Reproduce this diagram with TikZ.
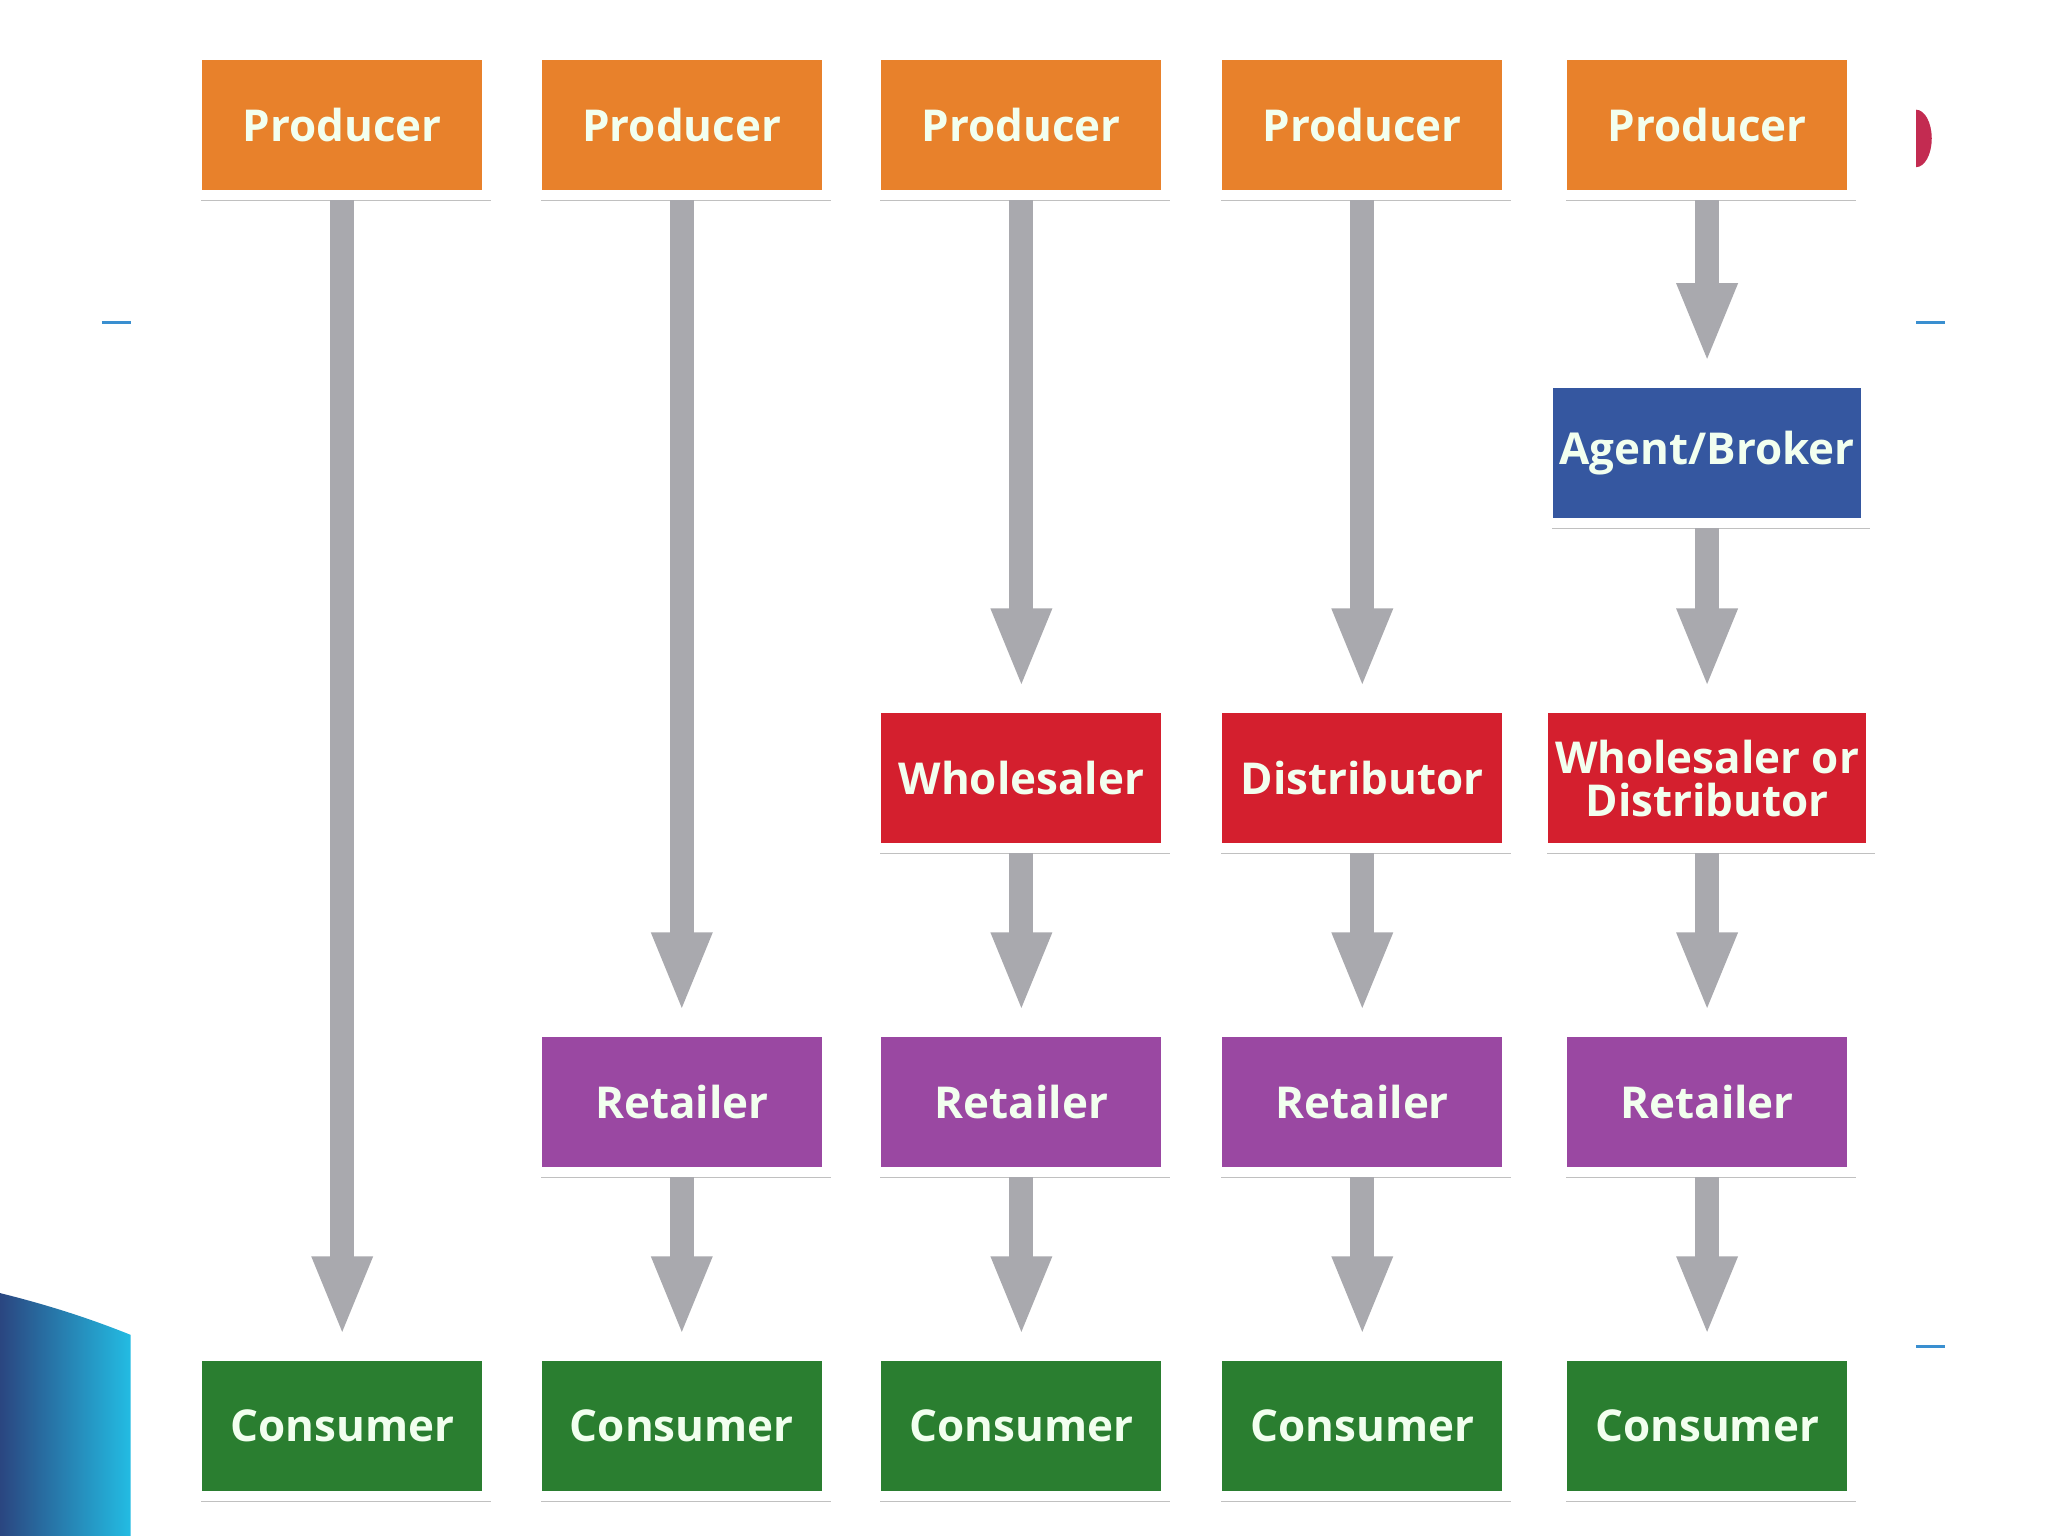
\documentclass[tikz,border=0pt]{standalone}
\usepackage{fontspec}
\setmainfont{Open Sans}
\usetikzlibrary{arrows.meta,shadows,positioning}
\definecolor{cor}{HTML}{E8812B}
\definecolor{cbl}{HTML}{3557A0}
\definecolor{cre}{HTML}{D41F2E}
\definecolor{cpu}{HTML}{9A48A2}
\definecolor{cgr}{HTML}{2A7E30}
\definecolor{ctx}{HTML}{F2FFEF}
\definecolor{carr}{HTML}{A9A9AE}
\definecolor{cdash}{HTML}{3A8FD0}
\begin{document}
\begin{tikzpicture}[x=0.013061cm,y=-0.013061cm,
  box/.style={draw=white,line width=0.1cm,minimum width=2.9cm,minimum height=1.4cm,
    text=ctx,font=\bfseries\fontsize{12.5}{15}\selectfont,align=center,
    drop shadow={shadow xshift=0.04cm,shadow yshift=-0.06cm,opacity=0.35,fill=black!70}},
  arr/.style={draw=carr,line width=0.24cm,-{Triangle[length=0.8cm,width=0.55cm]},shorten >=0.15cm}]
\useasboundingbox (0,0) rectangle (1568,1176);
\fill[white] (0,0) rectangle (1568,1176);
% decorations
\shade[left color=cbl!80!black,right color=cdash!60!cyan] (0,990) .. controls (40,1000) and (70,1010) .. (100,1022) -- (100,1176) -- (0,1176) -- cycle;
\draw[cdash,line width=0.03cm] (78,247) -- (100,247);
\draw[cdash,line width=0.03cm] (1467,247) -- (1489,247);
\draw[cdash,line width=0.03cm] (1467,1031) -- (1489,1031);
\fill[cre!70!cpu] (1467,128) arc (90:-90:12 and 22) -- cycle;
% nodes
\foreach \i/\x in {1/262,2/522,3/782,4/1043,5/1307}{
  \node[box,fill=cor] (p\i) at (\x,96) {Producer};
  \node[box,fill=cgr] (c\i) at (\x,1092) {Consumer};
}
\foreach \i/\x in {2/522,3/782,4/1043,5/1307}{
  \node[box,fill=cpu] (r\i) at (\x,844) {Retailer};
}
\node[box,fill=cre] (w3) at (782,596) {Wholesaler};
\node[box,fill=cre] (w4) at (1043,596) {Distributor};
\node[box,fill=cre] (w5) at (1307,596) {Wholesaler or\\[-3pt]Distributor};
\node[box,fill=cbl] (a5) at (1307,347) {Agent/Broker};
% arrows
\draw[arr] (p1) -- (c1);
\draw[arr] (p2) -- (r2);
\draw[arr] (p3) -- (w3);
\draw[arr] (p4) -- (w4);
\draw[arr] (p5) -- (a5);
\draw[arr] (a5) -- (w5);
\foreach \i in {3,4,5}{\draw[arr] (w\i) -- (r\i);}
\foreach \i in {2,3,4,5}{\draw[arr] (r\i) -- (c\i);}
\end{tikzpicture}
\end{document}
